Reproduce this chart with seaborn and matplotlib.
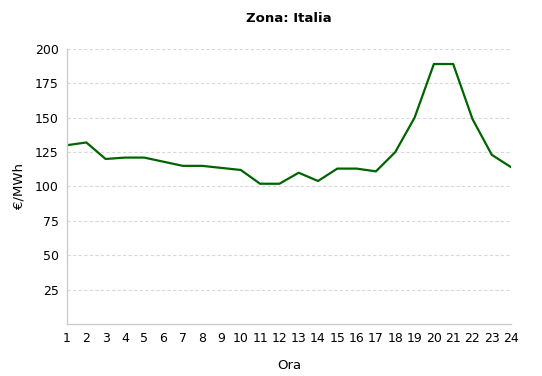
import matplotlib
matplotlib.use("Agg")
import matplotlib.pyplot as plt
import seaborn as sns
import pandas as pd

# hourly price, zone Italia
ore = list(range(1, 25))
prezzi = [130, 132, 120, 121, 121, 118, 115, 115, 113.5, 112, 102, 102,
          110, 104, 113, 113, 111, 125, 150, 189, 189, 149, 123, 114]
y_ticks = [25, 50, 75, 100, 125, 150, 175, 200]

sns.set_theme(style="white")
plt.rcParams['font.family'] = ['DejaVu Sans']
plt.rcParams['text.color'] = 'black'
plt.rcParams['axes.labelcolor'] = 'black'

df = pd.DataFrame({"Ora": ore, "Prezzo": prezzi})

fig = plt.figure(figsize=(5.42, 3.76), dpi=100)
ax = fig.add_axes([0.1236, 0.138, 0.8194, 0.732])

sns.lineplot(data=df, x="Ora", y="Prezzo", ax=ax, color="#006400", linewidth=1.6)

ax.set_xlim(1, 24)
ax.set_ylim(0, 200)
ax.set_xticks(ore)
ax.set_yticks(y_ticks)
ax.tick_params(axis='both', length=0, labelsize=9, colors='black', pad=6)
ax.grid(axis='y', color='#d9d9d9', linestyle=(0, (3, 2)), linewidth=0.8)
ax.set_axisbelow(True)

for s in ['top', 'right']:
    ax.spines[s].set_visible(False)
for s in ['left', 'bottom']:
    ax.spines[s].set_color('#cccccc')
    ax.spines[s].set_linewidth(1)

ax.set_xlabel("Ora", fontsize=9.5, labelpad=10, color='black')
ax.set_ylabel("€/MWh", fontsize=9.5, labelpad=7, color='black')
ax.set_title("Zona: Italia", fontsize=9.5, fontweight='bold', pad=19, color='black')

fig.savefig("out.png", dpi=100, facecolor='white')
